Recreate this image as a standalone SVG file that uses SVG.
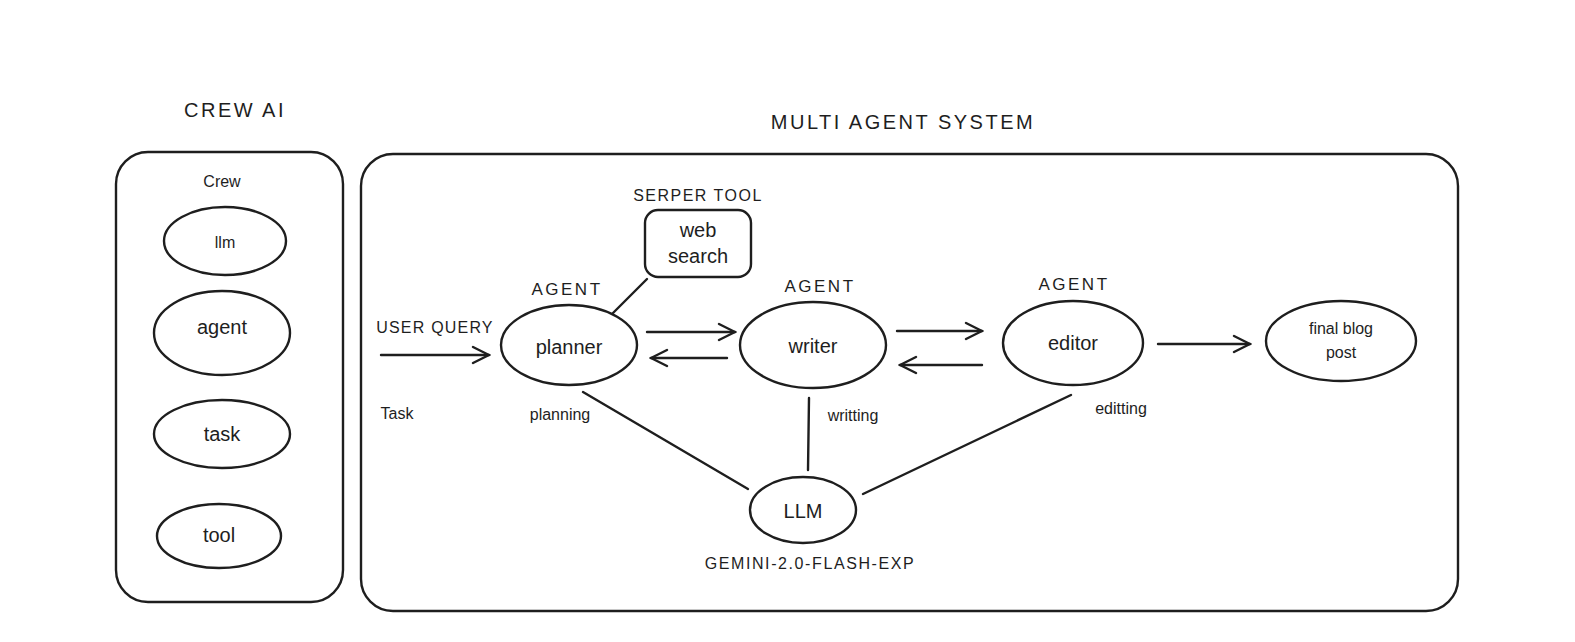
<svg xmlns="http://www.w3.org/2000/svg" width="1575" height="642" viewBox="0 0 1575 642">
<defs>
<style>
.s{fill:none;stroke:#1e1e1e;stroke-width:2.4;stroke-linecap:round;stroke-linejoin:round}
.t{font-family:"Liberation Sans",Arial,sans-serif;fill:#1e1e1e;text-anchor:middle;dominant-baseline:central}
.big{font-size:20px}
.lab{font-size:16px}
.cap{font-size:16px;letter-spacing:0.8px}
.ttl{font-size:20px;letter-spacing:2.5px}
.agt{font-size:17px;letter-spacing:2.5px}
</style>
<marker id="ah" viewBox="0 0 20 20" refX="18" refY="10" markerWidth="20" markerHeight="20" markerUnits="userSpaceOnUse" orient="auto">
<path d="M2,2 L18,10 L2,18" fill="none" stroke="#1e1e1e" stroke-width="2.4" stroke-linecap="round"/>
</marker>
</defs>
<rect width="1575" height="642" fill="#ffffff"/>
<text class="t ttl" x="235" y="110">CREW AI</text>
<text class="t ttl" x="903" y="122">MULTI AGENT SYSTEM</text>
<g id="crew-box">
<rect class="s" x="116" y="152" width="227" height="450" rx="32"/>
<text class="t lab" x="222" y="181">Crew</text>
</g>
<g id="crew-llm"><ellipse class="s" cx="225" cy="241" rx="61" ry="34"/><text class="t lab" x="225" y="242">llm</text></g>
<g id="crew-agent"><ellipse class="s" cx="222" cy="333" rx="68" ry="42"/><text class="t big" x="222" y="327">agent</text></g>
<g id="crew-task"><ellipse class="s" cx="222" cy="434" rx="68" ry="34"/><text class="t big" x="222" y="434">task</text></g>
<g id="crew-tool"><ellipse class="s" cx="219" cy="536" rx="62" ry="32"/><text class="t big" x="219" y="535">tool</text></g>
<g id="mas-box"><rect class="s" x="361" y="154" width="1097" height="457" rx="32"/></g>
<g id="web-search">
<text class="t cap" x="698" y="195" style="letter-spacing:1.5px">SERPER TOOL</text>
<rect class="s" x="645" y="210" width="106" height="67" rx="13"/>
<text class="t big" x="698" y="230">web</text>
<text class="t big" x="698" y="256">search</text>
</g>
<g id="planner"><text class="t agt" x="567" y="289">AGENT</text><ellipse class="s" cx="569" cy="345" rx="68" ry="40"/><text class="t big" x="569" y="347">planner</text></g>
<g id="writer"><text class="t agt" x="820" y="286">AGENT</text><ellipse class="s" cx="813" cy="345" rx="73" ry="43"/><text class="t big" x="813" y="346">writer</text></g>
<g id="editor"><text class="t agt" x="1074" y="284">AGENT</text><ellipse class="s" cx="1073" cy="343" rx="70" ry="42"/><text class="t big" x="1073" y="343">editor</text></g>
<g id="final"><ellipse class="s" cx="1341" cy="341" rx="75" ry="40"/><text class="t lab" x="1341" y="328">final blog</text><text class="t lab" x="1341" y="352">post</text></g>
<g id="llm"><ellipse class="s" cx="803" cy="510" rx="53" ry="33"/><text class="t big" x="803" y="511">LLM</text><text class="t cap" x="810" y="563" style="letter-spacing:1.6px">GEMINI-2.0-FLASH-EXP</text></g>
<g id="connectors">
<line class="s" x1="647" y1="279" x2="613" y2="313"/>
<line class="s" x1="381" y1="355" x2="489" y2="355" marker-end="url(#ah)"/>
<line class="s" x1="647" y1="332" x2="735" y2="332" marker-end="url(#ah)"/>
<line class="s" x1="727" y1="358" x2="651" y2="358" marker-end="url(#ah)"/>
<line class="s" x1="897" y1="331" x2="982" y2="331" marker-end="url(#ah)"/>
<line class="s" x1="982" y1="365" x2="900" y2="365" marker-end="url(#ah)"/>
<line class="s" x1="1158" y1="344" x2="1250" y2="344" marker-end="url(#ah)"/>
<line class="s" x1="583" y1="392" x2="748" y2="489"/>
<line class="s" x1="809" y1="398" x2="808" y2="470"/>
<line class="s" x1="1071" y1="395" x2="863" y2="494"/>
</g>
<g id="labels">
<text class="t cap" x="435" y="327" style="letter-spacing:1.2px">USER QUERY</text>
<text class="t lab" x="397" y="413">Task</text>
<text class="t lab" x="560" y="414">planning</text>
<text class="t lab" x="853" y="415">writting</text>
<text class="t lab" x="1121" y="408">editting</text>
</g>
</svg>
